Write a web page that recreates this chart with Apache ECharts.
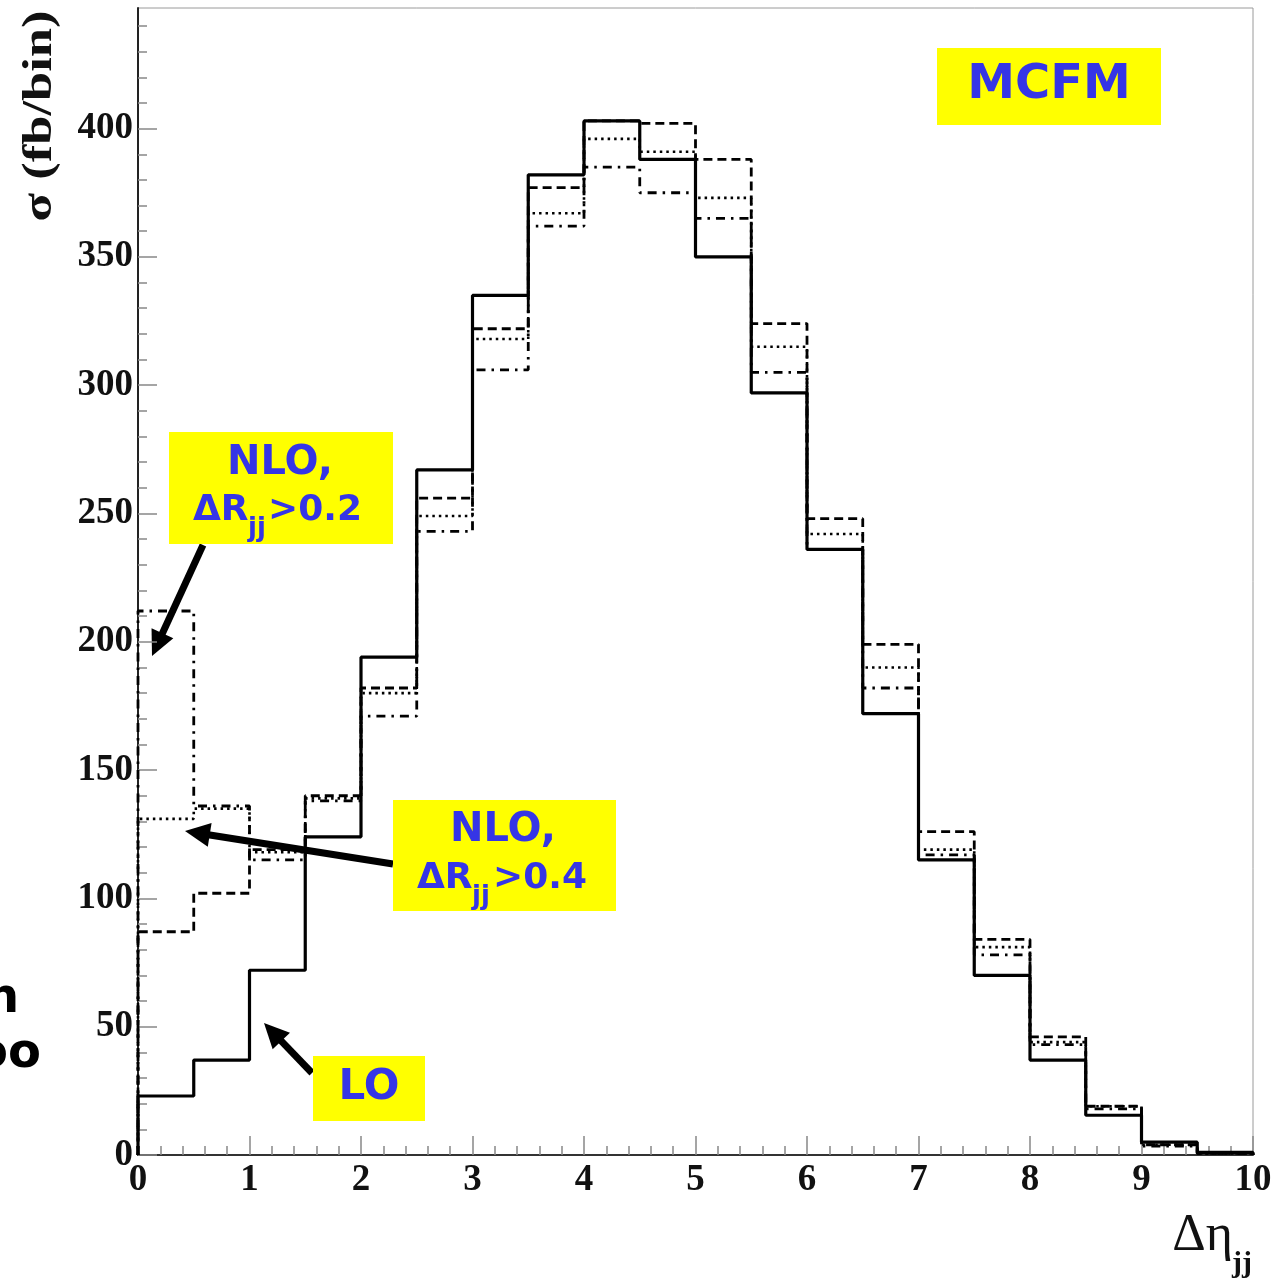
<!DOCTYPE html>
<html>
<head>
<meta charset="utf-8">
<script src="https://cdn.jsdelivr.net/npm/echarts@6/dist/echarts.min.js"></script>
<style>
  html, body { margin: 0; padding: 0; background: #ffffff; }
  #chart { width: 1283px; height: 1285px; }
</style>
</head>
<body>
<div id="chart"></div>
<script>
// Bin edges of the Δη_jj histogram (20 bins of width 0.5)
const binEdges = [0, 0.5, 1, 1.5, 2, 2.5, 3, 3.5, 4, 4.5, 5, 5.5, 6, 6.5, 7, 7.5, 8, 8.5, 9, 9.5, 10];

// σ per bin (fb/bin)
const loValues       = [23, 37, 72, 124, 194, 267, 335, 382, 403, 388, 350, 297, 236, 172, 115, 70, 37, 15.5, 5, 1];
const nloDashed      = [87, 102, 119, 140, 182, 256, 322, 377, 403, 402, 388, 324, 248, 199, 126, 84, 46, 19, 4, 0.6];
const nloDR04Dotted  = [131, 135, 118, 139, 180, 249, 318, 367, 396, 391, 373, 315, 242, 190, 119, 81, 44, 19, 4, 0.6];
const nloDR02DashDot = [212, 136, 115, 138, 171, 243, 306, 362, 385, 375, 365, 305, 236, 182, 117, 78, 43, 18, 3.5, 0.6];

// Axis ticks
const yMajorTicks = [0, 50, 100, 150, 200, 250, 300, 350, 400];
const yMinorTicks = [10, 20, 30, 40, 60, 70, 80, 90, 110, 120, 130, 140, 160, 170, 180, 190,
                     210, 220, 230, 240, 260, 270, 280, 290, 310, 320, 330, 340, 360, 370, 380, 390,
                     410, 420, 430, 440];
const xTickLabels = [0, 1, 2, 3, 4, 5, 6, 7, 8, 9, 10];

// Histogram outline: drop from 0 at the first edge, step across each bin, drop to 0 at the last edge
function histPoints(values) {
  const pts = [[binEdges[0], 0]];
  values.forEach((v, i) => pts.push([binEdges[i], v]));
  pts.push([binEdges[binEdges.length - 1], values[values.length - 1]]);
  pts.push([binEdges[binEdges.length - 1], 0]);
  return pts;
}

function histSeries(name, values, dash, width) {
  return {
    name: name,
    type: 'line',
    step: 'end',
    symbol: 'none',
    silent: true,
    data: histPoints(values),
    lineStyle: { color: '#000', width: width, type: dash, cap: 'butt' }
  };
}

function arrow(x1, y1, x2, y2) {
  const dx = x2 - x1, dy = y2 - y1, L = Math.hypot(dx, dy);
  const ux = dx / L, uy = dy / L, hl = 25, hw = 12;
  const bx = x2 - ux * hl, by = y2 - uy * hl;
  return [
    { type: 'line', shape: { x1: x1, y1: y1, x2: bx + ux * 3, y2: by + uy * 3 },
      style: { stroke: '#000', lineWidth: 7 } },
    { type: 'polygon', shape: { points: [[x2, y2], [bx - uy * hw, by + ux * hw], [bx + uy * hw, by - ux * hw]] },
      style: { fill: '#000' } }
  ];
}

const noteFont = "'Comic Sans MS', 'DejaVu Sans', sans-serif";
const noteBlue = '#3535e6';
const yellow = '#ffff00';

function noteText(x, y, text, size, align) {
  return { type: 'text', x: x, y: y, z: 20,
    style: { text: text, fill: noteBlue, fontFamily: noteFont, fontWeight: 'bold', fontSize: size,
             align: align || 'center', verticalAlign: 'middle' } };
}
function box(x, y, w, h) {
  return { type: 'rect', z: 19, shape: { x: x, y: y, width: w, height: h }, style: { fill: yellow } };
}

const tickLabelStyle = { fontFamily: "'Liberation Serif', 'Times New Roman', serif", fontWeight: 'bold', fontSize: 37, color: '#111' };

const chart = echarts.init(document.getElementById('chart'), null, { renderer: 'canvas' });
chart.setOption({
  animation: false,
  backgroundColor: '#fff',
  grid: { left: 138, right: 30, top: 8, bottom: 130, show: true, borderColor: '#9a9a9a', borderWidth: 1 },
  xAxis: {
    type: 'value', min: 0, max: 10, interval: 1,
    axisLine: { show: true, lineStyle: { color: '#333', width: 2 } },
    axisTick: { show: true, inside: true, length: 19, lineStyle: { color: '#888', width: 1.5 } },
    minorTick: { show: true, splitNumber: 5, length: 9, lineStyle: { color: '#888', width: 1.5 } },
    axisLabel: Object.assign({ margin: 7, formatter: v => xTickLabels.indexOf(v) >= 0 ? String(v) : '' }, tickLabelStyle),
    splitLine: { show: false }, minorSplitLine: { show: false }
  },
  yAxis: [
    {
      type: 'value', min: 0, max: 447, position: 'left',
      axisLine: { show: true, lineStyle: { color: '#222', width: 2 } },
      axisTick: { show: true, inside: true, length: 19, customValues: yMajorTicks, lineStyle: { color: '#888', width: 1.5 } },
      axisLabel: Object.assign({ margin: 5, customValues: yMajorTicks }, tickLabelStyle),
      splitLine: { show: false }
    },
    {
      type: 'value', min: 0, max: 447, position: 'left', offset: 0,
      axisLine: { show: false },
      axisTick: { show: true, inside: true, length: 9, customValues: yMinorTicks, lineStyle: { color: '#888', width: 1.5 } },
      axisLabel: { show: false },
      splitLine: { show: false }
    }
  ],
  series: [
    histSeries('NLO', nloDashed, [9, 5], 2.8),
    histSeries('NLO, ΔRjj>0.4', nloDR04Dotted, [2.5, 4], 2.6),
    histSeries('NLO, ΔRjj>0.2', nloDR02DashDot, [9, 6, 2.5, 6], 2.8),
    histSeries('LO', loValues, 'solid', 3.2)
  ],
  graphic: [
    // axis titles
    { type: 'text', x: 40, y: 116, rotation: Math.PI / 2, scaleX: 1.25,
      style: { text: 'σ (fb/bin)', fill: '#111', fontFamily: "'Liberation Serif', serif", fontWeight: 'bold',
               fontSize: 42, align: 'center', verticalAlign: 'middle' } },
    { type: 'text', x: 1233, y: 1236,
      style: { text: 'Δη', fill: '#111', fontFamily: "'Liberation Serif', serif", fontSize: 52,
               align: 'right', verticalAlign: 'middle' } },
    { type: 'text', x: 1232, y: 1264,
      style: { text: 'jj', fill: '#111', fontFamily: "'Liberation Serif', serif", fontWeight: 'bold', fontSize: 30,
               align: 'left', verticalAlign: 'middle' } },

    // MCFM tag
    box(937, 48, 224, 77),
    noteText(1049, 86, 'MCFM', 48),

    // NLO, ΔRjj>0.2
    box(169, 432, 224, 112),
    noteText(280, 464, 'NLO,', 40),
    noteText(193, 511, 'ΔR', 36, 'left'),
    noteText(248, 529, 'jj', 26, 'left'),
    noteText(268, 511, '>0.2', 36, 'left'),
    ...arrow(203, 545, 152, 656),

    // NLO, ΔRjj>0.4
    box(393, 800, 223, 111),
    noteText(503, 831, 'NLO,', 40),
    noteText(417, 879, 'ΔR', 36, 'left'),
    noteText(472, 897, 'jj', 26, 'left'),
    noteText(493, 879, '>0.4', 36, 'left'),
    ...arrow(393, 864, 185, 831),

    // LO
    box(313, 1056, 112, 65),
    noteText(369, 1088, 'LO', 42),
    ...arrow(312, 1073, 264, 1023),

    // words running in from the left margin
    { type: 'text', x: -15, y: 1000,
      style: { text: 'n', fill: '#000', fontFamily: noteFont, fontWeight: 'bold', fontSize: 48, align: 'left', verticalAlign: 'middle' } },
    { type: 'text', x: -25, y: 1055,
      style: { text: 'oo', fill: '#000', fontFamily: noteFont, fontWeight: 'bold', fontSize: 48, align: 'left', verticalAlign: 'middle' } }
  ]
});
</script>
</body>
</html>
